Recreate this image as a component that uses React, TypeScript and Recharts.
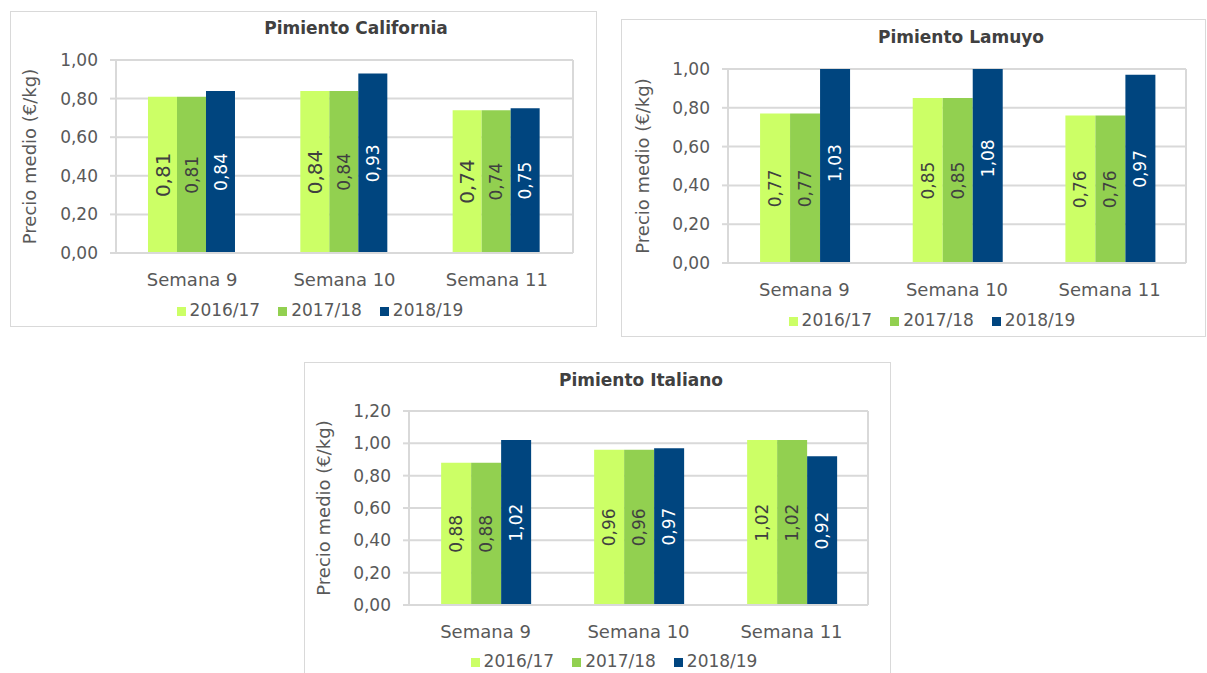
import React from "react";
import { BarChart, Bar, XAxis, YAxis, CartesianGrid, Legend, LabelList } from "recharts";

const semanas = ["Semana 9", "Semana 10", "Semana 11"];
const campanas = ["2016/17", "2017/18", "2018/19"];
const colores = ["#CCFF66", "#92D050", "#00457F"];

const california1617 = [0.81, 0.84, 0.74];
const california1718 = [0.81, 0.84, 0.74];
const california1819 = [0.84, 0.93, 0.75];

const lamuyo1617 = [0.77, 0.85, 0.76];
const lamuyo1718 = [0.77, 0.85, 0.76];
const lamuyo1819 = [1.03, 1.08, 0.97];

const italiano1617 = [0.88, 0.96, 1.02];
const italiano1718 = [0.88, 0.96, 1.02];
const italiano1819 = [1.02, 0.97, 0.92];

const ticksHasta100 = [0, 0.2, 0.4, 0.6, 0.8, 1.0];
const ticksHasta120 = [0, 0.2, 0.4, 0.6, 0.8, 1.0, 1.2];

const FONT = "'DejaVu Sans', sans-serif";
const TEXT = "#595959";
const GRID = "#d9d9d9";

const fmt = (v: number) => Number(v).toFixed(2).replace(".", ",");

interface PanelProps {
  title: string;
  series: number[][];
  ticks: number[];
  left: number;
  top: number;
  width: number;
  height: number;
  margin: { top: number; right: number; bottom: number; left: number };
  yWidth: number;
  titleX: number;
  titleY: number;
  labelX: number;
  legendLeft: number;
  legendWidth: number;
  legendBottom: number;
  labelSizes: number[];
}

function Panel(p: PanelProps) {
  const rows = semanas.map((s, i) => ({
    semana: s,
    s0: p.series[0][i],
    s1: p.series[1][i],
    s2: p.series[2][i],
  }));
  const yMax = p.ticks[p.ticks.length - 1];

  return (
    <div
      style={{
        position: "absolute",
        left: p.left,
        top: p.top,
        width: p.width,
        height: p.height,
        border: `1px solid ${GRID}`,
        boxSizing: "border-box",
        background: "#fff",
        fontFamily: FONT,
      }}
    >
      <div style={{ position: "absolute", left: -1, top: -1 }}>
        <BarChart
          width={p.width}
          height={p.height}
          data={rows}
          margin={p.margin}
          barCategoryGap="21%"
          barGap={0}
        >
          <CartesianGrid
            stroke={GRID}
            strokeWidth={2}
            verticalCoordinatesGenerator={({ offset }: any) => [offset.left + offset.width]}
          />
          <XAxis
            dataKey="semana"
            height={30}
            tickLine={false}
            tickMargin={14}
            axisLine={{ stroke: GRID, strokeWidth: 2 }}
            tick={{ fill: TEXT, fontSize: 18, fontFamily: FONT }}
          />
          <YAxis
            width={p.yWidth}
            domain={[0, yMax]}
            ticks={p.ticks}
            allowDataOverflow
            tickFormatter={fmt}
            tickSize={6}
            tickMargin={12}
            tickLine={{ stroke: GRID, strokeWidth: 2 }}
            axisLine={{ stroke: GRID, strokeWidth: 2 }}
            tick={{ fill: TEXT, fontSize: 17, fontFamily: FONT }}
            label={{
              content: (lp: any) => {
                const vb = lp.viewBox || { x: 0, y: 0, height: 0 };
                const cx = vb.x + p.labelX;
                const cy = vb.y + vb.height / 2;
                return (
                  <text
                    x={cx}
                    y={cy}
                    transform={`rotate(-90 ${cx} ${cy})`}
                    textAnchor="middle"
                    dominantBaseline="central"
                    fill={TEXT}
                    fontSize={18}
                    fontFamily={FONT}
                  >
                    Precio medio (€/kg)
                  </text>
                );
              },
            }}
          />
          <Legend
            verticalAlign="bottom"
            iconType="square"
            iconSize={9}
            wrapperStyle={{
              left: p.legendLeft,
              width: p.legendWidth,
              bottom: p.legendBottom,
              fontFamily: FONT,
              fontSize: 17,
              lineHeight: "20px",
            }}
            formatter={(v: any) => <span style={{ color: TEXT, marginRight: 8 }}>{v}</span>}
          />
          {["s0", "s1", "s2"].map((k, i) => (
            <Bar key={k} dataKey={k} name={campanas[i]} fill={colores[i]} isAnimationActive={false}>
              <LabelList
                dataKey={k}
                position="center"
                angle={-90}
                formatter={(v: any) => fmt(v)}
                fill={i === 2 ? "#ffffff" : "#404040"}
                fontSize={p.labelSizes[i]}
                fontFamily={FONT}
              />
            </Bar>
          ))}
        </BarChart>
      </div>
      <div
        style={{
          position: "absolute",
          left: p.titleX - 200,
          width: 400,
          top: p.titleY - 11,
          textAlign: "center",
          fontWeight: "bold",
          fontSize: 17,
          lineHeight: "20px",
          color: "#404040",
          fontFamily: FONT,
        }}
      >
        {p.title}
      </div>
    </div>
  );
}

export default function App() {
  return (
    <div style={{ position: "absolute", left: 0, top: 0, width: 1207, height: 673, background: "#fff", overflow: "hidden" }}>
      <Panel
        title="Pimiento California"
        series={[california1617, california1718, california1819]}
        ticks={ticksHasta100}
        left={10}
        top={11}
        width={587}
        height={316}
        margin={{ top: 49, right: 24, bottom: 24, left: 0 }}
        yWidth={106}
        titleX={345}
        titleY={17}
        labelX={19}
        legendLeft={29}
        legendWidth={580}
        legendBottom={7}
        labelSizes={[20, 17, 17]}
      />
      <Panel
        title="Pimiento Lamuyo"
        series={[lamuyo1617, lamuyo1718, lamuyo1819]}
        ticks={ticksHasta100}
        left={621}
        top={19}
        width={585}
        height={318}
        margin={{ top: 50, right: 20, bottom: 24, left: 0 }}
        yWidth={107}
        titleX={339}
        titleY={18}
        labelX={21}
        legendLeft={30}
        legendWidth={580}
        legendBottom={7}
        labelSizes={[17, 17, 17]}
      />
      <Panel
        title="Pimiento Italiano"
        series={[italiano1617, italiano1718, italiano1819]}
        ticks={ticksHasta120}
        left={304}
        top={362}
        width={587}
        height={330}
        margin={{ top: 49, right: 23, bottom: 37, left: 0 }}
        yWidth={105}
        titleX={336}
        titleY={18}
        labelX={19}
        legendLeft={29}
        legendWidth={580}
        legendBottom={21}
        labelSizes={[17, 17, 17]}
      />
    </div>
  );
}
